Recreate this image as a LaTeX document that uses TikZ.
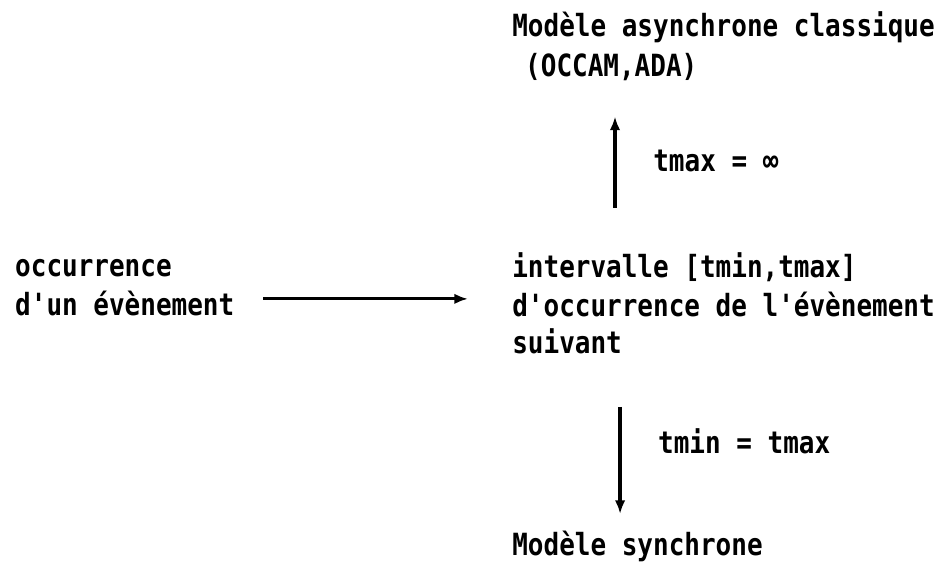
\documentclass[tikz,border=0pt]{standalone}
\usepackage{fontspec}
\newfontfamily\typewfont{DejaVu Sans Mono}[FakeStretch=0.85]
\usetikzlibrary{arrows.meta}

\begin{document}
\begin{tikzpicture}[
  txt/.style={anchor=base west, inner sep=0pt, font=\typewfont\bfseries\fontsize{29}{32}\selectfont},
  arr/.style={-{Latex[length=13pt,width=10pt]}, line width=3.4pt}
  ]
  \useasboundingbox (0,0) rectangle (31.567,19.133);

  % Define nodes for all texts
  \node[txt] (asyn) at (17.07,17.9) {Modèle asynchrone classique};
  \node[txt] (occam) at (17.5,16.57) {(OCCAM,ADA)};
  \node[txt] (tmaxinf) at (21.77,13.4) {tmax = ∞};
  \node[txt] (occ) at (0.5,9.9) {occurrence};
  \node[txt] (evt) at (0.5,8.6) {d'un évènement};
  \node[txt] (interv) at (17.07,9.87) {intervalle [tmin,tmax]};
  \node[txt] (occsuiv) at (17.07,8.57) {d'occurrence de l'évènement};
  \node[txt] (suiv) at (17.07,7.35) {suivant};
  \node[txt] (tminmax) at (21.93,4.0) {tmin = tmax};
  \node[txt] (syn) at (17.07,0.63) {Modèle synchrone};

  % Arrow ends
  \coordinate (upA) at (20.5,12.2);
  \coordinate (upB) at (20.5,15.25);
  \coordinate (rA) at (8.77,9.17);
  \coordinate (rB) at (15.6,9.17);
  \coordinate (dnA) at (20.67,5.57);
  \coordinate (dnB) at (20.67,2.0);

  % Draw arrows
  \draw[arr] (upA) -- (upB);
  \draw[arr, line width=2.8pt] (rA) -- (rB);
  \draw[arr] (dnA) -- (dnB);

\end{tikzpicture}
\end{document}
